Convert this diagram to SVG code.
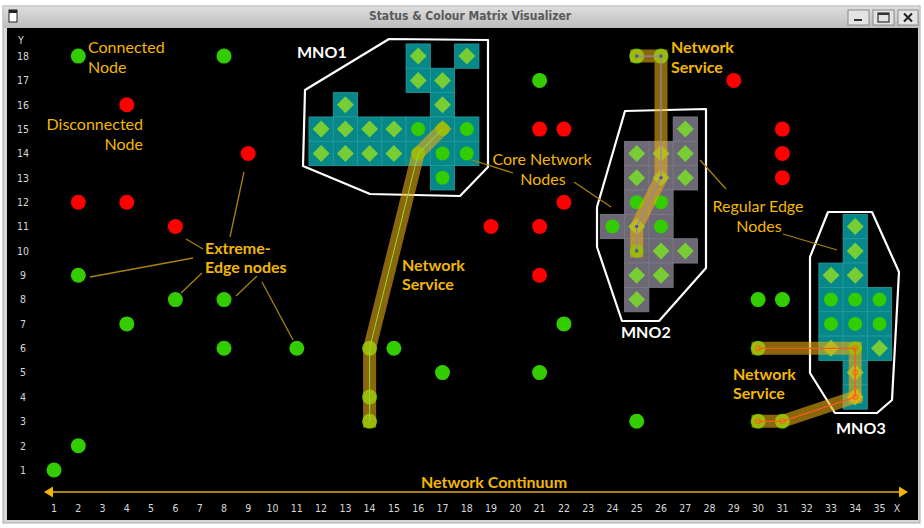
<svg xmlns="http://www.w3.org/2000/svg" width="924" height="528" viewBox="0 0 924 528">
<defs>
<style>
.lbl{font-family:Lato,"Open Sans",sans-serif;font-size:16px;fill:#f2b705}
.b{font-weight:bold}
.mno{font-family:Lato,"Open Sans",sans-serif;font-weight:bold;font-size:16px;fill:#ffffff}
.ax{font-family:"DejaVu Sans Condensed","DejaVu Sans",sans-serif;font-stretch:condensed;font-size:10.5px;fill:#d8d8d8;text-anchor:middle}
.lead{stroke:#a8820f;stroke-width:1.3;fill:none}
.hull{fill:none;stroke:#ffffff;stroke-width:2.2;stroke-linejoin:round}
.teal{fill:#06878a;stroke:#2a9b9d;stroke-width:0.8}
.gray{fill:#6c6876;stroke:#7e7a88;stroke-width:0.8}
.band{fill:none;stroke:#e8ab12;stroke-opacity:0.6;stroke-width:13;stroke-linecap:square;stroke-linejoin:miter}
.g{fill:#33cc00}
.r{fill:#ff0000}
.btn{fill:#e4e4e4;stroke:#8a8a8a;stroke-width:1}
</style>
<linearGradient id="tb" x1="0" y1="0" x2="0" y2="1">
<stop offset="0" stop-color="#dedede"/>
<stop offset="1" stop-color="#bdbdbd"/>
</linearGradient>
<rect id="cell" x="-12.14" y="-12.17" width="24.28" height="24.35"/>
<polygon id="dia" points="0,-8.5 8.5,0 0,8.5 -8.5,0" fill="#78cc34"/>
<circle id="in" r="7" fill="#33cc00"/>
<circle id="dot" r="7.5"/>
</defs>

<!-- window frame -->
<rect x="0" y="0" width="924" height="528" fill="#ffffff"/>
<rect x="3" y="6" width="917" height="517" fill="#d6d6d6" stroke="#a8a8a8" stroke-width="1"/>
<rect x="3.5" y="6.5" width="916" height="21.5" fill="url(#tb)"/>
<rect x="9" y="10" width="8" height="12" fill="#ffffff" stroke="#222" stroke-width="1"/>
<rect x="9" y="10" width="8" height="3" fill="#222"/>
<text x="470" y="20" text-anchor="middle" font-family="'DejaVu Sans Condensed','DejaVu Sans',sans-serif" font-stretch="condensed" font-weight="bold" font-size="12" fill="#5a5a5a">Status &amp; Colour Matrix Visualizer</text>
<rect class="btn" x="848" y="10" width="21" height="15"/>
<rect x="854" y="19" width="8" height="2" fill="#333"/>
<rect class="btn" x="873" y="10" width="21" height="15"/>
<rect x="878" y="13" width="11" height="9" fill="none" stroke="#333" stroke-width="1.2"/>
<rect x="878" y="13" width="11" height="2" fill="#333"/>
<rect class="btn" x="898" y="10" width="20" height="15"/>
<path d="M904,13.5 L912,21.5 M912,13.5 L904,21.5" stroke="#222" stroke-width="2"/>
<rect x="7" y="28" width="911" height="492" fill="#000000"/>

<!-- axes -->
<g id="y-axis">
<text class="ax" x="21" y="44">Y</text>
<text class="ax" x="23" y="60">18</text>
<text class="ax" x="23" y="84.2">17</text>
<text class="ax" x="23" y="108.6">16</text>
<text class="ax" x="23" y="132.9">15</text>
<text class="ax" x="23" y="157.3">14</text>
<text class="ax" x="23" y="181.6">13</text>
<text class="ax" x="23" y="206">12</text>
<text class="ax" x="23" y="230.3">11</text>
<text class="ax" x="23" y="254.7">10</text>
<text class="ax" x="23" y="279">9</text>
<text class="ax" x="23" y="303.4">8</text>
<text class="ax" x="23" y="327.7">7</text>
<text class="ax" x="23" y="352.1">6</text>
<text class="ax" x="23" y="376.4">5</text>
<text class="ax" x="23" y="400.8">4</text>
<text class="ax" x="23" y="425.1">3</text>
<text class="ax" x="23" y="449.5">2</text>
<text class="ax" x="23" y="473.8">1</text>
</g>
<g id="x-axis">
<line x1="52" y1="492" x2="900" y2="492" stroke="#a8820f" stroke-width="2"/>
<polygon points="44,492 53,486.5 53,497.5" fill="#f2b705"/>
<polygon points="908,492 899,486.5 899,497.5" fill="#f2b705"/>
<text class="lbl b" x="494" y="488" text-anchor="middle">Network Continuum</text>
<text class="ax" x="54" y="512">1</text>
<text class="ax" x="78.3" y="512">2</text>
<text class="ax" x="102.6" y="512">3</text>
<text class="ax" x="126.8" y="512">4</text>
<text class="ax" x="151.1" y="512">5</text>
<text class="ax" x="175.4" y="512">6</text>
<text class="ax" x="199.7" y="512">7</text>
<text class="ax" x="224" y="512">8</text>
<text class="ax" x="248.2" y="512">9</text>
<text class="ax" x="272.5" y="512">10</text>
<text class="ax" x="296.8" y="512">11</text>
<text class="ax" x="321.1" y="512">12</text>
<text class="ax" x="345.4" y="512">13</text>
<text class="ax" x="369.6" y="512">14</text>
<text class="ax" x="393.9" y="512">15</text>
<text class="ax" x="418.2" y="512">16</text>
<text class="ax" x="442.5" y="512">17</text>
<text class="ax" x="466.8" y="512">18</text>
<text class="ax" x="491" y="512">19</text>
<text class="ax" x="515.3" y="512">20</text>
<text class="ax" x="539.6" y="512">21</text>
<text class="ax" x="563.9" y="512">22</text>
<text class="ax" x="588.2" y="512">23</text>
<text class="ax" x="612.4" y="512">24</text>
<text class="ax" x="636.7" y="512">25</text>
<text class="ax" x="661" y="512">26</text>
<text class="ax" x="685.3" y="512">27</text>
<text class="ax" x="709.6" y="512">28</text>
<text class="ax" x="733.8" y="512">29</text>
<text class="ax" x="758.1" y="512">30</text>
<text class="ax" x="782.4" y="512">31</text>
<text class="ax" x="806.7" y="512">32</text>
<text class="ax" x="831" y="512">33</text>
<text class="ax" x="855.2" y="512">34</text>
<text class="ax" x="879.5" y="512">35</text>
<text class="ax" x="897" y="512">X</text>
</g>

<!-- MNO1 -->
<g id="mno1">
<use href="#cell" class="teal" x="418.2" y="56.1"/>
<use href="#cell" class="teal" x="466.8" y="56.1"/>
<use href="#cell" class="teal" x="418.2" y="80.4"/>
<use href="#cell" class="teal" x="442.5" y="80.4"/>
<use href="#cell" class="teal" x="345.4" y="104.8"/>
<use href="#cell" class="teal" x="442.5" y="104.8"/>
<use href="#cell" class="teal" x="321.1" y="129.1"/>
<use href="#cell" class="teal" x="345.4" y="129.1"/>
<use href="#cell" class="teal" x="369.6" y="129.1"/>
<use href="#cell" class="teal" x="393.9" y="129.1"/>
<use href="#cell" class="teal" x="418.2" y="129.1"/>
<use href="#cell" class="teal" x="442.5" y="129.1"/>
<use href="#cell" class="teal" x="466.8" y="129.1"/>
<use href="#cell" class="teal" x="321.1" y="153.5"/>
<use href="#cell" class="teal" x="345.4" y="153.5"/>
<use href="#cell" class="teal" x="369.6" y="153.5"/>
<use href="#cell" class="teal" x="393.9" y="153.5"/>
<use href="#cell" class="teal" x="418.2" y="153.5"/>
<use href="#cell" class="teal" x="442.5" y="153.5"/>
<use href="#cell" class="teal" x="466.8" y="153.5"/>
<use href="#cell" class="teal" x="442.5" y="177.8"/>
<use href="#dia" x="418.2" y="56.1"/>
<use href="#dia" x="466.8" y="56.1"/>
<use href="#dia" x="418.2" y="80.4"/>
<use href="#dia" x="442.5" y="80.4"/>
<use href="#dia" x="345.4" y="104.8"/>
<use href="#dia" x="442.5" y="104.8"/>
<use href="#dia" x="321.1" y="129.1"/>
<use href="#dia" x="345.4" y="129.1"/>
<use href="#dia" x="369.6" y="129.1"/>
<use href="#dia" x="393.9" y="129.1"/>
<use href="#in" x="418.2" y="129.1"/>
<use href="#in" x="442.5" y="129.1"/>
<use href="#in" x="466.8" y="129.1"/>
<use href="#dia" x="321.1" y="153.5"/>
<use href="#dia" x="345.4" y="153.5"/>
<use href="#dia" x="369.6" y="153.5"/>
<use href="#dia" x="393.9" y="153.5"/>
<use href="#in" x="418.2" y="153.5"/>
<use href="#in" x="442.5" y="153.5"/>
<use href="#in" x="466.8" y="153.5"/>
<use href="#in" x="442.5" y="177.8"/>
<polygon class="hull" points="305,90 389,39 488,40 488,167 460,196 370,194 303,166"/>
<text class="mno" x="297" y="58">MNO1</text>
</g>

<!-- MNO2 -->
<g id="mno2">
<use href="#cell" class="gray" x="685.3" y="129.1"/>
<use href="#cell" class="gray" x="636.7" y="153.5"/>
<use href="#cell" class="gray" x="661" y="153.5"/>
<use href="#cell" class="gray" x="685.3" y="153.5"/>
<use href="#cell" class="gray" x="636.7" y="177.8"/>
<use href="#cell" class="gray" x="661" y="177.8"/>
<use href="#cell" class="gray" x="685.3" y="177.8"/>
<use href="#cell" class="gray" x="636.7" y="202.2"/>
<use href="#cell" class="gray" x="661" y="202.2"/>
<use href="#cell" class="gray" x="612.4" y="226.5"/>
<use href="#cell" class="gray" x="636.7" y="226.5"/>
<use href="#cell" class="gray" x="661" y="226.5"/>
<use href="#cell" class="gray" x="636.7" y="250.9"/>
<use href="#cell" class="gray" x="661" y="250.9"/>
<use href="#cell" class="gray" x="685.3" y="250.9"/>
<use href="#cell" class="gray" x="636.7" y="275.2"/>
<use href="#cell" class="gray" x="661" y="275.2"/>
<use href="#cell" class="gray" x="636.7" y="299.6"/>
<use href="#dia" x="685.3" y="129.1"/>
<use href="#dia" x="636.7" y="153.5"/>
<use href="#dia" x="661" y="153.5"/>
<use href="#dia" x="685.3" y="153.5"/>
<use href="#dia" x="636.7" y="177.8"/>
<use href="#dia" x="661" y="177.8"/>
<use href="#dia" x="685.3" y="177.8"/>
<use href="#in" x="636.7" y="202.2"/>
<use href="#in" x="661" y="202.2"/>
<use href="#in" x="612.4" y="226.5"/>
<use href="#dia" x="636.7" y="226.5"/>
<use href="#in" x="661" y="226.5"/>
<use href="#in" x="636.7" y="250.9"/>
<use href="#dia" x="661" y="250.9"/>
<use href="#dia" x="685.3" y="250.9"/>
<use href="#dia" x="636.7" y="275.2"/>
<use href="#dia" x="661" y="275.2"/>
<use href="#dia" x="636.7" y="299.6"/>
<polygon class="hull" points="625,111 706,109 706,268 659,321 622,321 597,247 597,207"/>
<text class="mno" x="621" y="338">MNO2</text>
</g>

<!-- MNO3 -->
<g id="mno3">
<use href="#cell" class="teal" x="855.2" y="226.5"/>
<use href="#cell" class="teal" x="855.2" y="250.9"/>
<use href="#cell" class="teal" x="831" y="275.2"/>
<use href="#cell" class="teal" x="855.2" y="275.2"/>
<use href="#cell" class="teal" x="831" y="299.6"/>
<use href="#cell" class="teal" x="855.2" y="299.6"/>
<use href="#cell" class="teal" x="879.5" y="299.6"/>
<use href="#cell" class="teal" x="831" y="323.9"/>
<use href="#cell" class="teal" x="855.2" y="323.9"/>
<use href="#cell" class="teal" x="879.5" y="323.9"/>
<use href="#cell" class="teal" x="831" y="348.3"/>
<use href="#cell" class="teal" x="855.2" y="348.3"/>
<use href="#cell" class="teal" x="879.5" y="348.3"/>
<use href="#cell" class="teal" x="855.2" y="372.6"/>
<use href="#cell" class="teal" x="855.2" y="397"/>
<use href="#dia" x="855.2" y="226.5"/>
<use href="#dia" x="855.2" y="250.9"/>
<use href="#dia" x="831" y="275.2"/>
<use href="#dia" x="855.2" y="275.2"/>
<use href="#in" x="831" y="299.6"/>
<use href="#in" x="855.2" y="299.6"/>
<use href="#in" x="879.5" y="299.6"/>
<use href="#in" x="831" y="323.9"/>
<use href="#in" x="855.2" y="323.9"/>
<use href="#in" x="879.5" y="323.9"/>
<use href="#dia" x="831" y="348.3"/>
<use href="#in" x="855.2" y="348.3"/>
<use href="#dia" x="879.5" y="348.3"/>
<use href="#dia" x="855.2" y="372.6"/>
<use href="#dia" x="855.2" y="397"/>
<polygon class="hull" points="828,212 872,212 899,272 892,400 877,413 835,413 810,373 810,257"/>
<text class="mno" x="836" y="434">MNO3</text>
</g>

<!-- standalone nodes -->
<g id="n-1-1"><use href="#dot" class="g" x="54" y="470"/></g>
<g id="n-2-2"><use href="#dot" class="g" x="78.3" y="445.7"/></g>
<g id="n-2-9"><use href="#dot" class="g" x="78.3" y="275.2"/></g>
<g id="n-2-18"><use href="#dot" class="g" x="78.3" y="56.1"/></g>
<g id="n-4-7"><use href="#dot" class="g" x="126.8" y="323.9"/></g>
<g id="n-6-8"><use href="#dot" class="g" x="175.4" y="299.6"/></g>
<g id="n-8-8"><use href="#dot" class="g" x="224" y="299.6"/></g>
<g id="n-8-6"><use href="#dot" class="g" x="224" y="348.3"/></g>
<g id="n-8-18"><use href="#dot" class="g" x="224" y="56.1"/></g>
<g id="n-11-6"><use href="#dot" class="g" x="296.8" y="348.3"/></g>
<g id="n-15-6"><use href="#dot" class="g" x="393.9" y="348.3"/></g>
<g id="n-17-5"><use href="#dot" class="g" x="442.5" y="372.6"/></g>
<g id="n-21-5"><use href="#dot" class="g" x="539.6" y="372.6"/></g>
<g id="n-21-17"><use href="#dot" class="g" x="539.6" y="80.4"/></g>
<g id="n-22-7"><use href="#dot" class="g" x="563.9" y="323.9"/></g>
<g id="n-25-3"><use href="#dot" class="g" x="636.7" y="421.3"/></g>
<g id="n-30-8"><use href="#dot" class="g" x="758.1" y="299.6"/></g>
<g id="n-31-8"><use href="#dot" class="g" x="782.4" y="299.6"/></g>
<g id="n-30-6"><use href="#dot" class="g" x="758.1" y="348.3"/></g>
<g id="n-30-3"><use href="#dot" class="g" x="758.1" y="421.3"/></g>
<g id="n-31-3"><use href="#dot" class="g" x="782.4" y="421.3"/></g>
<g id="n-14-6"><use href="#dot" class="g" x="369.6" y="348.3"/></g>
<g id="n-14-4"><use href="#dot" class="g" x="369.6" y="397"/></g>
<g id="n-14-3"><use href="#dot" class="g" x="369.6" y="421.3"/></g>
<g id="n-25-18"><use href="#dot" class="g" x="636.7" y="56.1"/></g>
<g id="n-26-18"><use href="#dot" class="g" x="661" y="56.1"/></g>
<g id="n-4-16"><use href="#dot" class="r" x="126.8" y="104.8"/></g>
<g id="n-2-12"><use href="#dot" class="r" x="78.3" y="202.2"/></g>
<g id="n-4-12"><use href="#dot" class="r" x="126.8" y="202.2"/></g>
<g id="n-6-11"><use href="#dot" class="r" x="175.4" y="226.5"/></g>
<g id="n-9-14"><use href="#dot" class="r" x="248.2" y="153.5"/></g>
<g id="n-19-11"><use href="#dot" class="r" x="491" y="226.5"/></g>
<g id="n-21-15"><use href="#dot" class="r" x="539.6" y="129.1"/></g>
<g id="n-22-15"><use href="#dot" class="r" x="563.9" y="129.1"/></g>
<g id="n-22-12"><use href="#dot" class="r" x="563.9" y="202.2"/></g>
<g id="n-21-11"><use href="#dot" class="r" x="539.6" y="226.5"/></g>
<g id="n-21-9"><use href="#dot" class="r" x="539.6" y="275.2"/></g>
<g id="n-29-17"><use href="#dot" class="r" x="733.8" y="80.4"/></g>
<g id="n-31-15"><use href="#dot" class="r" x="782.4" y="129.1"/></g>
<g id="n-31-14"><use href="#dot" class="r" x="782.4" y="153.5"/></g>
<g id="n-31-13"><use href="#dot" class="r" x="782.4" y="177.8"/></g>

<!-- connectors: network service paths and leader lines -->
<g id="connectors">
<path class="band" d="M369.6,421.3 L369.6,348.3 L418.2,153.5 L442.5,129.1"/>
<path d="M369.6,421.3 L369.6,348.3 L418.2,153.5 L442.5,129.1" fill="none" stroke="#8fdc3a" stroke-width="1"/>
<path class="band" d="M636.7,56.1 L661,56.1 L661,177.8 L636.7,226.5 L636.7,250.9"/>
<path d="M636.7,56.1 L661,56.1 L661,177.8 L636.7,226.5 L636.7,250.9" fill="none" stroke="#8c8ab0" stroke-width="1.2"/>
<g fill="#4a5a9a"><circle cx="636.7" cy="56.1" r="1.8"/><circle cx="661" cy="56.1" r="1.8"/><circle cx="661" cy="177.8" r="1.8"/><circle cx="636.7" cy="226.5" r="1.8"/><circle cx="636.7" cy="250.9" r="1.8"/></g>
<path class="band" d="M758.1,348.3 L855.2,348.3 L855.2,397"/>
<path class="band" d="M758.1,421.3 L782.4,421.3 L855.2,397"/>
<path d="M758.1,348.3 L855.2,348.3 L855.2,397 M758.1,421.3 L782.4,421.3 L855.2,397" fill="none" stroke="#ff5a1e" stroke-width="1.3"/>
<g fill="none" stroke="#ff5a1e" stroke-width="1"><circle cx="758.1" cy="348.3" r="2.5"/><circle cx="855.2" cy="348.3" r="2.5"/><circle cx="855.2" cy="372.6" r="2.5"/><circle cx="855.2" cy="397" r="2.5"/><circle cx="758.1" cy="421.3" r="2.5"/><circle cx="782.4" cy="421.3" r="2.5"/></g>
<line class="lead" x1="244" y1="172" x2="230" y2="237"/>
<line class="lead" x1="186" y1="239" x2="203" y2="249"/>
<line class="lead" x1="90" y1="277" x2="193" y2="258"/>
<line class="lead" x1="202" y1="273" x2="181" y2="293"/>
<line class="lead" x1="257" y1="276" x2="236" y2="296"/>
<line class="lead" x1="262" y1="282" x2="293" y2="340"/>
<line class="lead" x1="472" y1="160" x2="513" y2="173"/>
<line class="lead" x1="574" y1="182" x2="611" y2="207"/>
<line class="lead" x1="700" y1="160" x2="726" y2="189"/>
<line class="lead" x1="783" y1="234" x2="837" y2="250"/>
</g>

<!-- labels -->
<g id="labels">
<text class="lbl" x="88" y="53">Connected</text>
<text class="lbl" x="88" y="73">Node</text>
<text class="lbl" x="143" y="130" text-anchor="end">Disconnected</text>
<text class="lbl" x="143" y="150" text-anchor="end">Node</text>
<text class="lbl b" x="205" y="254">Extreme-</text>
<text class="lbl b" x="205" y="273">Edge nodes</text>
<text class="lbl b" x="402" y="271">Network</text>
<text class="lbl b" x="402" y="290">Service</text>
<text class="lbl" x="542" y="165" text-anchor="middle">Core Network</text>
<text class="lbl" x="543" y="185" text-anchor="middle">Nodes</text>
<text class="lbl b" x="671" y="53">Network</text>
<text class="lbl b" x="671" y="73">Service</text>
<text class="lbl" x="758" y="212" text-anchor="middle">Regular Edge</text>
<text class="lbl" x="759" y="232" text-anchor="middle">Nodes</text>
<text class="lbl b" x="733" y="380">Network</text>
<text class="lbl b" x="733" y="399">Service</text>
</g>
</svg>
